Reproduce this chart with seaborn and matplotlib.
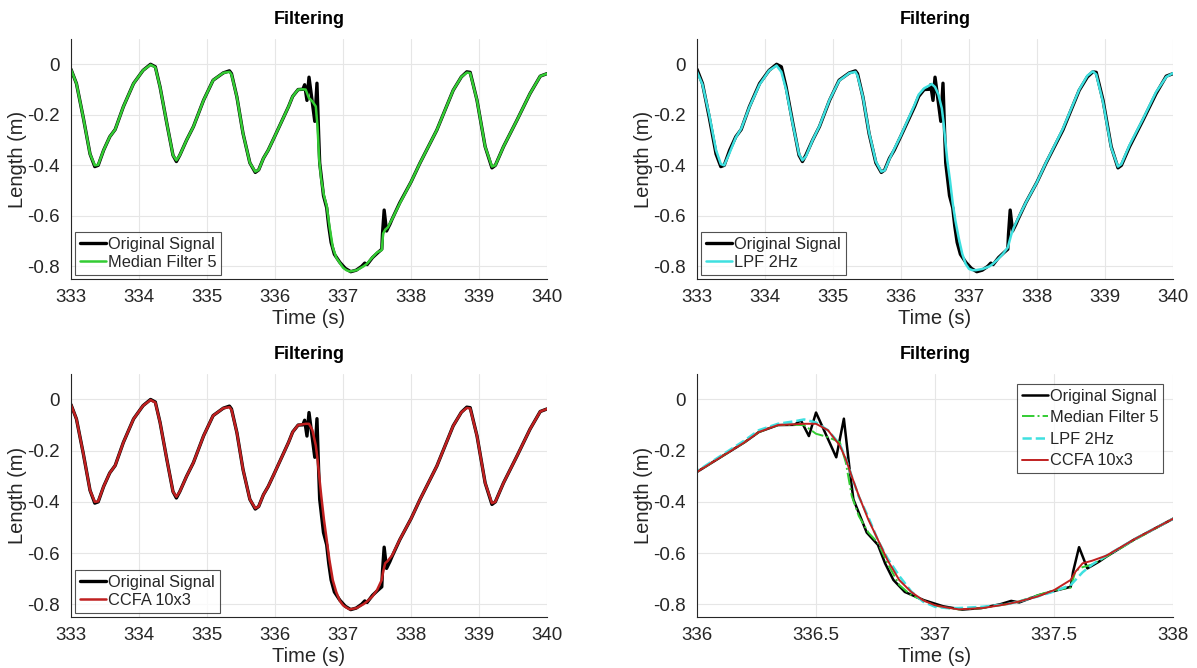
import numpy as np
import pandas as pd
import matplotlib
matplotlib.use('Agg')
import matplotlib.pyplot as plt
import seaborn as sns

# original signal (with spikes)
t_orig = [333.00, 333.08, 333.18, 333.28, 333.35, 333.40, 333.48, 333.57, 333.65, 333.77,
          333.92, 334.06, 334.17, 334.24, 334.31, 334.41, 334.50, 334.55, 334.60, 334.70,
          334.80, 334.95, 335.09, 335.24, 335.33, 335.36, 335.44, 335.53, 335.63, 335.71,
          335.76, 335.83, 335.90, 336.00, 336.10, 336.20, 336.26, 336.34, 336.41, 336.436,
          336.47, 336.50, 336.585, 336.617, 336.641, 336.657, 336.713, 336.76, 336.79, 336.825,
          336.873, 336.953, 337.034, 337.114, 337.194, 337.274, 337.32, 337.354, 337.434, 337.514,
          337.57, 337.58, 337.605, 337.64, 337.69, 337.72, 337.835, 338.00, 338.13, 338.38,
          338.62, 338.74, 338.82, 338.87, 338.97, 339.09, 339.19, 339.24, 339.36, 339.56,
          339.75, 339.90, 340.00]
y_orig = [-0.020, -0.076, -0.210, -0.355, -0.405, -0.400, -0.340, -0.287, -0.258, -0.168,
          -0.076, -0.024, 0.000, -0.010, -0.090, -0.235, -0.360, -0.385, -0.360, -0.300,
          -0.247, -0.142, -0.063, -0.034, -0.026, -0.037, -0.130, -0.274, -0.390, -0.428,
          -0.418, -0.372, -0.340, -0.283, -0.225, -0.167, -0.127, -0.100, -0.099, -0.081,
          -0.143, -0.051, -0.226, -0.075, -0.272, -0.390, -0.520, -0.568, -0.640, -0.705,
          -0.752, -0.784, -0.808, -0.821, -0.815, -0.800, -0.787, -0.793, -0.765, -0.745,
          -0.732, -0.673, -0.577, -0.660, -0.633, -0.614, -0.548, -0.466, -0.392, -0.260,
          -0.103, -0.050, -0.030, -0.032, -0.142, -0.326, -0.410, -0.400, -0.326, -0.220,
          -0.116, -0.047, -0.037]

# time points for the filtered signals
t_filt = [333.00, 333.08, 333.18, 333.28, 333.35, 333.40, 333.48, 333.57, 333.65, 333.77,
          333.92, 334.06, 334.17, 334.24, 334.31, 334.41, 334.50, 334.55, 334.60, 334.70,
          334.80, 334.95, 335.09, 335.24, 335.33, 335.36, 335.44, 335.53, 335.63, 335.71,
          335.76, 335.83, 335.90, 336.00, 336.10, 336.20, 336.26, 336.34, 336.41, 336.45,
          336.50, 336.55, 336.60, 336.625, 336.65, 336.68, 336.72, 336.76, 336.80, 336.85,
          336.90, 336.95, 337.00, 337.05, 337.10, 337.20, 337.30, 337.35, 337.43, 337.50,
          337.57, 337.59, 337.62, 337.66, 337.72, 337.84, 338.00, 338.13, 338.38, 338.62,
          338.74, 338.82, 338.87, 338.97, 339.09, 339.19, 339.24, 339.36, 339.56, 339.75,
          339.90, 340.00]

y_median = [-0.020, -0.076, -0.210, -0.355, -0.400, -0.398, -0.340, -0.287, -0.258, -0.168,
            -0.076, -0.024, -0.002, -0.012, -0.090, -0.235, -0.360, -0.380, -0.360, -0.300,
            -0.247, -0.142, -0.063, -0.034, -0.030, -0.040, -0.130, -0.274, -0.390, -0.425,
            -0.418, -0.372, -0.340, -0.283, -0.225, -0.167, -0.127, -0.100, -0.099, -0.100,
            -0.134, -0.147, -0.167, -0.246, -0.377, -0.456, -0.520, -0.560, -0.640, -0.725,
            -0.765, -0.785, -0.805, -0.815, -0.820, -0.815, -0.800, -0.790, -0.765, -0.745,
            -0.735, -0.670, -0.655, -0.645, -0.614, -0.548, -0.466, -0.392, -0.260, -0.103,
            -0.050, -0.033, -0.035, -0.142, -0.326, -0.405, -0.400, -0.326, -0.220, -0.116,
            -0.047, -0.037]

y_lpf = [-0.030, -0.080, -0.200, -0.340, -0.395, -0.400, -0.350, -0.290, -0.255, -0.170,
         -0.080, -0.025, -0.005, -0.030, -0.100, -0.240, -0.355, -0.380, -0.365, -0.300,
         -0.245, -0.140, -0.065, -0.035, -0.030, -0.045, -0.130, -0.270, -0.385, -0.425,
         -0.420, -0.375, -0.335, -0.280, -0.220, -0.160, -0.120, -0.095, -0.085, -0.078,
         -0.090, -0.120, -0.175, -0.230, -0.300, -0.380, -0.460, -0.550, -0.620, -0.690,
         -0.750, -0.790, -0.810, -0.815, -0.815, -0.810, -0.800, -0.790, -0.770, -0.750,
         -0.725, -0.705, -0.675, -0.645, -0.610, -0.545, -0.466, -0.390, -0.255, -0.100,
         -0.045, -0.028, -0.040, -0.150, -0.330, -0.405, -0.395, -0.320, -0.215, -0.110,
         -0.050, -0.035]

y_ccfa = [-0.020, -0.076, -0.210, -0.355, -0.400, -0.398, -0.340, -0.287, -0.258, -0.168,
          -0.076, -0.024, -0.002, -0.012, -0.090, -0.235, -0.360, -0.380, -0.360, -0.300,
          -0.247, -0.142, -0.063, -0.034, -0.030, -0.040, -0.130, -0.274, -0.390, -0.425,
          -0.418, -0.372, -0.340, -0.283, -0.225, -0.167, -0.127, -0.100, -0.097, -0.095,
          -0.095, -0.120, -0.180, -0.233, -0.300, -0.377, -0.470, -0.548, -0.627, -0.706,
          -0.752, -0.785, -0.804, -0.813, -0.820, -0.815, -0.800, -0.790, -0.770, -0.745,
          -0.705, -0.673, -0.640, -0.630, -0.610, -0.545, -0.466, -0.392, -0.260, -0.103,
          -0.050, -0.033, -0.035, -0.142, -0.326, -0.405, -0.400, -0.326, -0.220, -0.116,
          -0.047, -0.037]

orig = pd.DataFrame({'t': t_orig, 'y': y_orig})
filt = pd.DataFrame({'t': t_filt, 'median': y_median, 'lpf': y_lpf, 'ccfa': y_ccfa})

sns.set_style('whitegrid')
plt.rcParams['font.family'] = ['Liberation Sans', 'DejaVu Sans']
txt = '#262626'

GREEN = '#33cc33'
CYAN = '#3fe0e0'
RED = '#c02020'

fig = plt.figure(figsize=(11.97, 6.68), dpi=100)
pos = [[0.0593, 0.5823, 0.3977, 0.3593],
       [0.5823, 0.5823, 0.3977, 0.3593],
       [0.0593, 0.0763, 0.3977, 0.3640],
       [0.5823, 0.0763, 0.3977, 0.3640]]
axes = [fig.add_axes(p) for p in pos]


def style(ax, xlim, xticks, xticklabels):
    ax.set_xlim(*xlim)
    ax.set_ylim(-0.85, 0.1)
    ax.set_xticks(xticks)
    ax.set_xticklabels(xticklabels)
    ax.set_yticks([0, -0.2, -0.4, -0.6, -0.8])
    ax.set_yticklabels(['0', '-0.2', '-0.4', '-0.6', '-0.8'])
    ax.grid(True, color='#e6e6e6', linewidth=0.8)
    for s in ['top', 'right']:
        ax.spines[s].set_visible(False)
    for s in ['left', 'bottom']:
        ax.spines[s].set_color(txt)
        ax.spines[s].set_linewidth(0.8)
    ax.tick_params(direction='in', length=4, width=0.8, colors=txt,
                   labelsize=13.5)
    ax.tick_params(axis='x', pad=7)
    ax.tick_params(axis='y', pad=8)
    ax.set_title('Filtering', fontsize=13, fontweight='bold', color='black', pad=11)
    ax.set_xlabel('Time (s)', fontsize=14.5, color=txt, labelpad=2)
    ax.set_ylabel('Length (m)', fontsize=14.5, color=txt, labelpad=0)


def legend(ax, loc, spacing, axpad):
    leg = ax.legend(loc=loc, fontsize=11.8, frameon=True, fancybox=False,
                    handlelength=1.6, handletextpad=0.1, borderpad=0.3,
                    labelspacing=spacing, borderaxespad=axpad)
    leg.get_frame().set_edgecolor('#262626')
    leg.get_frame().set_linewidth(0.8)
    for t in leg.get_texts():
        t.set_color(txt)


full_ticks = [333, 334, 335, 336, 337, 338, 339, 340]
full_labels = [str(v) for v in full_ticks]

panels = [('median', 'Median Filter 5', GREEN),
          ('lpf', 'LPF 2Hz', CYAN),
          ('ccfa', 'CCFA 10x3', RED)]

for ax, (col, name, c) in zip(axes[:3], panels):
    sns.lineplot(data=orig, x='t', y='y', ax=ax, color='black', linewidth=2.4,
                 estimator=None, sort=False, label='Original Signal')
    sns.lineplot(data=filt, x='t', y=col, ax=ax, color=c, linewidth=1.8,
                 estimator=None, sort=False, label=name)
    style(ax, (333, 340), full_ticks, full_labels)
    legend(ax, 'lower left', 0.2, 0.25)

ax = axes[3]
sns.lineplot(data=orig, x='t', y='y', ax=ax, color='black', linewidth=1.8,
             estimator=None, sort=False, label='Original Signal')
sns.lineplot(data=filt, x='t', y='median', ax=ax, color=GREEN, linewidth=1.4,
             estimator=None, sort=False, label='Median Filter 5', linestyle='-.')
sns.lineplot(data=filt, x='t', y='lpf', ax=ax, color=CYAN, linewidth=1.8,
             estimator=None, sort=False, label='LPF 2Hz', linestyle='--')
sns.lineplot(data=filt, x='t', y='ccfa', ax=ax, color=RED, linewidth=1.4,
             estimator=None, sort=False, label='CCFA 10x3')
style(ax, (336, 338), [336, 336.5, 337, 337.5, 338],
      ['336', '336.5', '337', '337.5', '338'])
legend(ax, 'upper right', 0.4, 0.6)

fig.savefig('out.png', dpi=100)
